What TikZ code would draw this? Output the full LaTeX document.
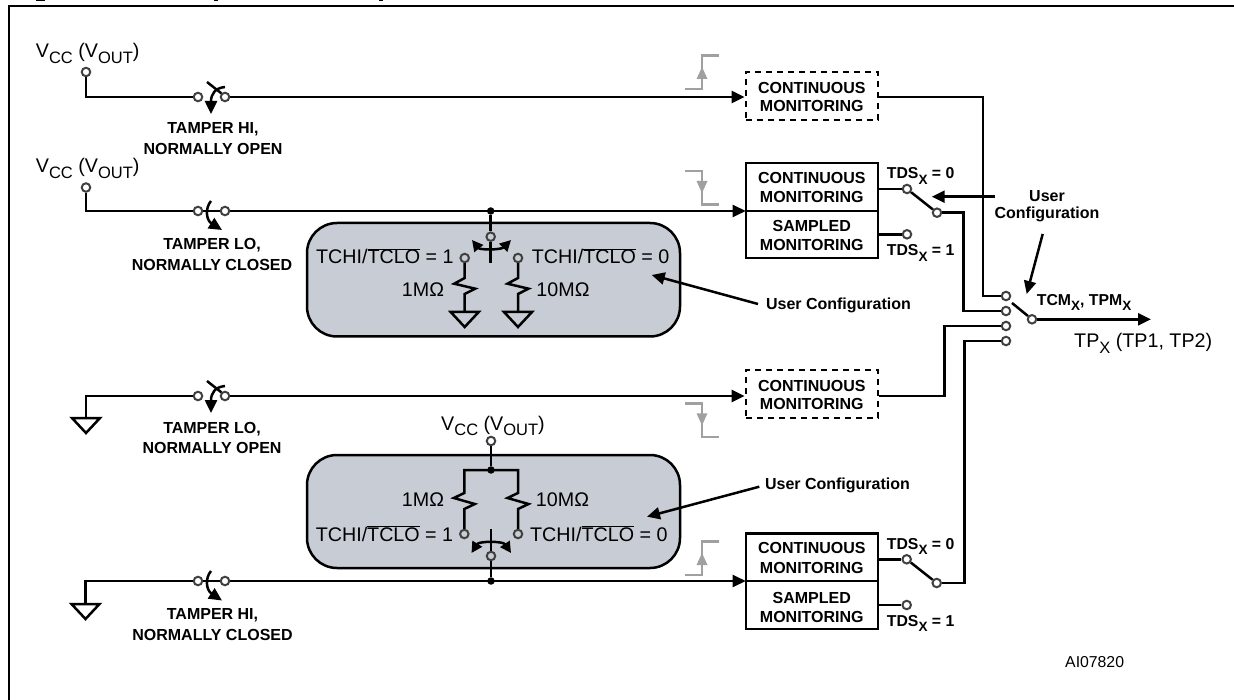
\documentclass[tikz,border=0pt]{standalone}
\usepackage{fontspec}
\setmainfont{Liberation Sans}
\usetikzlibrary{arrows.meta,calc}
\definecolor{termc}{HTML}{404040}
\definecolor{panelc}{HTML}{C8CCD4}
\definecolor{stepc}{HTML}{A0A0A0}
\newcommand{\bsub}[1]{\raisebox{-0.32em}{\fontsize{13.5}{14}\selectfont\bfseries #1}}
\newcommand{\rsub}[1]{\raisebox{-0.28em}{\fontsize{16.5}{18}\selectfont #1}}
\newcommand{\vccv}{V\rsub{CC} (V\rsub{OUT})}
\newcommand{\tchi}[1]{TCHI/$\overline{\hbox{TCLO}}$ = #1}
\newcommand{\tds}[1]{TDS\bsub{X} = #1}
\newcommand{\myground}[1]{\draw[wire] (#1) ++(-14,0) -- ++(28,0) -- ++(-14,15) -- cycle;}
\newcommand{\riser}[1]{\draw[stepline] (#1) ++(-17,0) -- ++(17,0) -- ++(0,-33.5) -- ++(17,0);
  \fill[stepc] (#1) ++(0,-22) -- ++(5.5,12) -- ++(-11,0) -- cycle;}
\newcommand{\faller}[1]{\draw[stepline] (#1) ++(-17,0) -- ++(17,0) -- ++(0,33.5) -- ++(17,0);
  \fill[stepc] (#1) ++(0,22) -- ++(5.5,-12) -- ++(-11,0) -- cycle;}
\tikzset{
  x=1pt,y=-1pt,
  wire/.style={line width=2.5pt,line join=miter},
  frameline/.style={line width=2.6pt},
  arrowwire/.style={wire,-{Triangle[length=13pt,width=12pt]}},
  curvetip/.style={wire,{Triangle[length=11pt,width=11pt]}-{Triangle[length=11pt,width=11pt]}},
  onetip/.style={wire,-{Triangle[length=13pt,width=12pt]}},
  term/.style={circle,draw=termc,line width=2pt,minimum size=8.5pt,inner sep=0pt},
  dotn/.style={circle,fill=black,minimum size=7.5pt,inner sep=0pt},
  monobox/.style={draw,line width=2.5pt,minimum width=132pt,inner sep=0pt,align=center},
  boldtext/.style={inner sep=0pt,align=center,font=\fontsize{16}{19}\selectfont\bfseries},
  regbase/.style={inner sep=0pt,anchor=base west,font=\fontsize{19.7}{23}\selectfont},
  boldbase/.style={inner sep=0pt,anchor=base west,font=\fontsize{15.8}{19}\selectfont\bfseries},
  reg/.style={inner sep=0pt,font=\fontsize{19.7}{23}\selectfont},
  panel/.style={draw,line width=2.5pt,fill=panelc,rounded corners=30pt},
  stepline/.style={draw=stepc,line width=2.5pt},
}
\begin{document}
\begin{tikzpicture}
\useasboundingbox (0,0) rectangle (1234,700);
% frame and remains of the cut-off title
\draw[frameline] (9,700) -- (9,6) -- (1234,6);
\fill (36,0) rectangle (45,1.4);
\fill (214,0) rectangle (218,1.4);
\fill (379,0) rectangle (383,1.4);

% grey panels
\path[panel] (307,223) rectangle (680,336.5);
\path[panel] (307,455) rectangle (680,568);

% ---------- row 1
\node[regbase] (v1) at (35.7,58) {\vccv};
\node[term] (t1) at (86,72) {};
\node[term] (s1a) at (198,97) {};
\node[term] (s1b) at (225,97) {};
\coordinate (c1) at (86,97);
\draw[wire] (t1) -- (c1) -- (s1a);
\node[monobox,dashed,dash pattern=on 6pt off 5pt,minimum height=48pt] (m1) at (811.8,96) {};
\node[boldtext] (m1t) at (811.8,87.5) {CONTINUOUS};
\node[boldtext] (m1u) at (811.8,106) {MONITORING};
\draw[arrowwire] (s1b) -- (m1.west |- s1b);
\coordinate (x1) at (207,82);
\draw[wire] (x1) -- (s1b.north west);
\coordinate (a1s) at (225,87);
\coordinate (a1e) at (211,114);
\draw[onetip] (a1s) .. controls (215,88) and (211,94) .. (a1e);
\node[boldtext] (l1a) at (213,129.5) {TAMPER HI,};
\node[boldtext] (l1b) at (213,148.5) {NORMALLY OPEN};
\coordinate (st1) at (702,89);
\riser{st1}

% ---------- row 2
\node[regbase] (v2) at (35.7,173) {\vccv};
\node[term] (t2) at (86,187.5) {};
\node[term] (s2a) at (198,211) {};
\node[term] (s2b) at (225,211) {};
\coordinate (c2) at (86,211);
\draw[wire] (t2) -- (c2) -- (s2a);
\draw[wire] (s2a) -- (s2b);
\node[monobox,minimum height=95pt] (m2) at (811.8,210.5) {};
\coordinate (m2l) at (745.7,211);
\coordinate (m2r) at (877.9,211);
\draw[wire] (m2l) -- (m2r);
\node[boldtext] (m2t) at (811.8,178) {CONTINUOUS};
\node[boldtext] (m2u) at (811.8,197) {MONITORING};
\node[boldtext] (m2v) at (811.8,225.7) {SAMPLED};
\node[boldtext] (m2w) at (811.8,244.5) {MONITORING};
\draw[arrowwire] (s2b) -- (m2l);
\coordinate (a2s) at (211,201);
\coordinate (a2e) at (222,230);
\draw[onetip] (a2s) .. controls (205,208) and (206,220) .. (a2e);
\node[boldtext] (l2a) at (212,245.5) {TAMPER LO,};
\node[boldtext] (l2b) at (212,265) {NORMALLY CLOSED};
\coordinate (st2) at (702,171);
\faller{st2}

% upper panel content
\node[dotn] (j2) at (490.7,211) {};
\node[term] (p1c) at (490.7,236.7) {};
\draw[wire] (j2) -- (p1c);
\coordinate (p1s) at (490.7,263);
\draw[wire] (p1c) -- (p1s);
\coordinate (p1l) at (472,240);
\coordinate (p1r) at (511,240);
\draw[curvetip] (p1l) .. controls (480,250) and (501,250) .. (p1r);
\node[term] (p1a) at (464.7,258) {};
\node[term] (p1b) at (518,258) {};
\coordinate (g1a) at (464.7,312);
\coordinate (g1b) at (518,312);
\draw[wire] (p1a) -- ++(0,20) -- ++(-10.5,5.7) -- ++(21,5) -- ++(-10.5,5.3) -- (g1a);
\draw[wire] (p1b) -- ++(0,20) -- ++(-10.5,5.7) -- ++(21,5) -- ++(-10.5,5.3) -- (g1b);
\myground{g1a}
\myground{g1b}
\node[regbase] (q1a) at (316,264) {\tchi{1}};
\node[regbase] (q1b) at (531.7,264) {\tchi{0}};
\node[reg] (r1a) at (423,289.5) {1MΩ};
\node[reg] (r1b) at (563,289.5) {10MΩ};
\node[boldtext] (uc1) at (838.5,305.7) {User Configuration};
\coordinate (uc1s) at (758,304);
\coordinate (uc1e) at (651.7,275);
\draw[arrowwire] (uc1s) -- (uc1e);

% switch of the upper sampled box
\node[term] (d1a) at (907,189) {};
\node[term] (d1c) at (907,234.3) {};
\node[term] (d1b) at (937,212.7) {};
\draw[wire] (m2.east |- d1a) -- (d1a);
\draw[wire] (m2.east |- d1c) -- (d1c);
\draw[wire] (d1a) -- (d1b);
\node[boldbase] (d1t) at (886.7,179) {\tds{0}};
\node[boldbase] (d1u) at (886.7,256) {\tds{1}};

% ---------- selector on the right
\node[term] (k1) at (1006,296) {};
\node[term] (k2) at (1006,311) {};
\node[term] (k3) at (1006,326) {};
\node[term] (k4) at (1006,341) {};
\node[term] (kout) at (1032,319.3) {};
\coordinate (kb) at (1012,303);
\draw[wire] (kb) -- (kout);
\coordinate (tpe) at (1151,319.3);
\draw[arrowwire] (kout) -- (tpe);
\coordinate (e1) at (983,97);
\coordinate (e1b) at (983,296);
\draw[wire] (m1.east |- e1) -- (e1) -- (e1b) -- (k1);
\coordinate (e2) at (963.3,212.7);
\coordinate (e2b) at (963.3,311);
\draw[wire] (d1b) -- (e2) -- (e2b) -- (k2);
\node[boldbase] (tcm) at (1036.7,305.6) {TCM\bsub{X}, TPM\bsub{X}};
\node[regbase] (tpx) at (1074,348) {TP\rsub{X} (TP1, TP2)};
\node[boldtext] (uc2a) at (1047,195.7) {User};
\node[boldtext] (uc2b) at (1047,214.7) {Configuration};
\coordinate (uc2s) at (995,196.7);
\coordinate (uc2e) at (931.7,196.7);
\draw[arrowwire] (uc2s) -- (uc2e);
\coordinate (uc3s) at (1042.7,234);
\coordinate (uc3e) at (1026.7,294);
\draw[arrowwire] (uc3s) -- (uc3e);

% ---------- row 3
\coordinate (g3) at (86,418);
\coordinate (c3) at (86,396);
\node[term] (s3a) at (198,396) {};
\node[term] (s3b) at (225,396) {};
\draw[wire] (g3) -- (c3) -- (s3a);
\myground{g3}
\node[monobox,dashed,dash pattern=on 6pt off 5pt,minimum height=48pt] (m3) at (811.8,394) {};
\node[boldtext] (m3t) at (811.8,385.7) {CONTINUOUS};
\node[boldtext] (m3u) at (811.8,404.3) {MONITORING};
\draw[arrowwire] (s3b) -- (m3.west |- s3b);
\coordinate (x3) at (207,381);
\draw[wire] (x3) -- (s3b.north west);
\coordinate (a3s) at (225,386);
\coordinate (a3e) at (211,413);
\draw[onetip] (a3s) .. controls (215,387) and (211,393) .. (a3e);
\node[boldtext] (l3a) at (212,429.3) {TAMPER LO,};
\node[boldtext] (l3b) at (212,448.3) {NORMALLY OPEN};
\coordinate (st3) at (702,403.3);
\faller{st3}
\coordinate (e3) at (944.3,396);
\coordinate (e3b) at (944.3,326);
\draw[wire] (m3.east |- e3) -- (e3) -- (e3b) -- (k3);

% ---------- row 4
\coordinate (g4) at (85.5,604);
\coordinate (c4) at (85.5,581);
\node[term] (s4a) at (198,581) {};
\node[term] (s4b) at (225,581) {};
\draw[wire] (g4) -- (c4) -- (s4a);
\draw[wire] (s4a) -- (s4b);
\myground{g4}
\node[monobox,minimum height=95.5pt] (m4) at (811.8,581.2) {};
\coordinate (m4l) at (745.7,581);
\coordinate (m4r) at (877.9,581);
\draw[wire] (m4l) -- (m4r);
\node[boldtext] (m4t) at (811.8,548.3) {CONTINUOUS};
\node[boldtext] (m4u) at (811.8,568.3) {MONITORING};
\node[boldtext] (m4v) at (811.8,597.7) {SAMPLED};
\node[boldtext] (m4w) at (811.8,616.7) {MONITORING};
\draw[arrowwire] (s4b) -- (m4l);
\coordinate (a4s) at (211,571);
\coordinate (a4e) at (222,600.5);
\draw[onetip] (a4s) .. controls (205,578) and (206,590) .. (a4e);
\node[boldtext] (l4a) at (212.5,615.7) {TAMPER HI,};
\node[boldtext] (l4b) at (212.5,635) {NORMALLY CLOSED};
\coordinate (st4) at (702,575);
\riser{st4}

% lower panel content
\node[regbase] (v3) at (441,430) {\vccv};
\node[term] (p2t) at (491,441) {};
\node[dotn] (j3) at (491,470) {};
\draw[wire] (p2t) -- (j3);
\coordinate (h1) at (464.3,470);
\coordinate (h2) at (518,470);
\node[term] (p2a) at (464.3,534) {};
\node[term] (p2b) at (518,534) {};
\draw[wire] (p2a) -- ++(0,-25) -- ++(10.5,-5) -- ++(-21,-6) -- ++(10.5,-5) -- (h1) -- (h2) -- ++(0,23) -- ++(-10.5,5) -- ++(21,6) -- ++(-10.5,5) -- (p2b);
\node[term] (p2c) at (491,556) {};
\node[dotn] (j4) at (491,581) {};
\draw[wire] (p2c) -- (j4);
\coordinate (p2s) at (491,529);
\draw[wire] (p2c) -- (p2s);
\coordinate (p2l) at (471.5,553);
\coordinate (p2r) at (511,553);
\draw[curvetip] (p2l) .. controls (479,541) and (503,541) .. (p2r);
\node[regbase] (q2a) at (315.6,541) {\tchi{1}};
\node[regbase] (q2b) at (530,541) {\tchi{0}};
\node[reg] (r2a) at (423,500) {1MΩ};
\node[reg] (r2b) at (562.5,500) {10MΩ};
\node[boldtext] (uc4) at (837.5,485.7) {User Configuration};
\coordinate (uc4s) at (759.3,486.7);
\coordinate (uc4e) at (647,516.7);
\draw[arrowwire] (uc4s) -- (uc4e);

% switch of the lower sampled box
\node[term] (d2a) at (906.7,559.3) {};
\node[term] (d2c) at (906.7,605) {};
\node[term] (d2b) at (936.7,583) {};
\draw[wire] (m4.east |- d2a) -- (d2a);
\draw[wire] (m4.east |- d2c) -- (d2c);
\draw[wire] (d2a) -- (d2b);
\node[boldbase] (d2t) at (886.7,549.3) {\tds{0}};
\node[boldbase] (d2u) at (886.7,626.7) {\tds{1}};
\coordinate (e4) at (964.3,583);
\coordinate (e4b) at (964.3,341);
\draw[wire] (d2b) -- (e4) -- (e4b) -- (k4);

\node[inner sep=0pt,anchor=base west,font=\fontsize{15.8}{19}\selectfont] (ai) at (1065,667) {AI07820};
\end{tikzpicture}
\end{document}
